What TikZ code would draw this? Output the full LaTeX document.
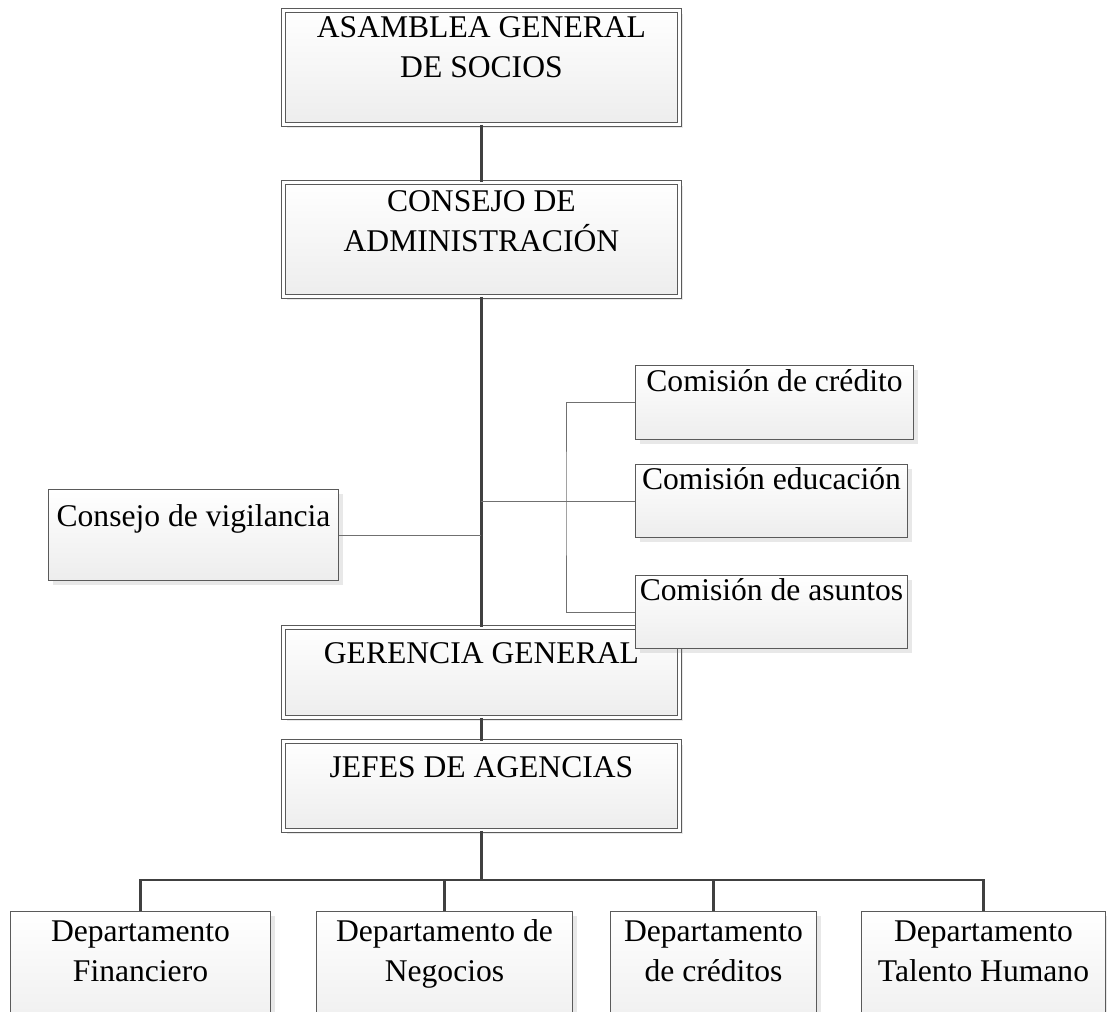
\documentclass[tikz,border=0pt]{standalone}
\usepackage{fontspec}
\setmainfont{Liberation Serif}
\usetikzlibrary{shadows}
\definecolor{lineadark}{HTML}{404040}
\definecolor{lineathin}{HTML}{707070}
\definecolor{bordebox}{HTML}{5A5A5A}
\definecolor{fondobajo}{HTML}{EDEDED}

\begin{document}
\begin{tikzpicture}[x=0.5pt, y=-0.5pt,
    caja/.style={draw=bordebox, line width=0.5pt, top color=white, bottom color=fondobajo,
                 drop shadow={shadow xshift=2pt, shadow yshift=-2pt, opacity=0.18},
                 anchor=north west, inner sep=0pt, align=center,
                 font=\fontsize{15.8pt}{20pt}\selectfont},
    cajadoble/.style={caja, double=white, double distance=1.2pt, line width=0.45pt},
    tronco/.style={draw=lineadark, line width=1.1pt},
    rama/.style={draw=lineathin, line width=0.5pt}]
  \clip (0,0) rectangle (1107,1011);

  % niveles principales
  \node[cajadoble, minimum width=198pt, text height=33.5pt, text depth=23.5pt] (asamblea) at (283,10)
    {ASAMBLEA GENERAL\\DE SOCIOS};
  \node[cajadoble, minimum width=198pt, text height=34.5pt, text depth=22.5pt] (admin) at (283,182)
    {CONSEJO DE\\ADMINISTRACIÓN};
  \node[cajadoble, minimum width=198pt, text height=18pt, text depth=27pt] (gerencia) at (283,627)
    {GERENCIA GENERAL};
  \node[cajadoble, minimum width=198pt, text height=18pt, text depth=26.5pt] (jefes) at (283,741)
    {JEFES DE AGENCIAS};

  % organos de control y comisiones
  \node[caja, minimum width=145pt, text height=18.5pt, text depth=27pt] (vigilancia) at (48,489)
    {Consejo de vigilancia};
  \node[caja, minimum width=139pt, text height=13pt, text depth=24pt] (credito) at (635,365)
    {Comisión de crédito};
  \node[caja, minimum width=136pt, text height=12.5pt, text depth=24pt] (educacion) at (635,464)
    {Comisión educación};
  \node[caja, minimum width=136pt, text height=12.5pt, text depth=24pt] (asuntos) at (635,575)
    {Comisión de asuntos};

  % departamentos
  \node[caja, minimum width=130pt, text height=35pt, text depth=29.5pt] (financiero) at (10,911)
    {Departamento\\Financiero};
  \node[caja, minimum width=128pt, text height=35pt, text depth=29.5pt] (negocios) at (316,911)
    {Departamento de\\Negocios};
  \node[caja, minimum width=103pt, text height=35pt, text depth=29.5pt] (creditos) at (610,911)
    {Departamento\\de créditos};
  \node[caja, minimum width=122pt, text height=35pt, text depth=29.5pt] (talento) at (861,911)
    {Departamento\\Talento Humano};

  % conectores
  \draw[tronco] (asamblea.south) -- (admin.north);
  \draw[tronco] (admin.south) -- (gerencia.north);
  \draw[tronco] (gerencia.south) -- (jefes.north);
  \coordinate (barra) at (jefes.south |- 0,880);
  \draw[tronco] (jefes.south) -- (barra);
  \draw[tronco] (barra) -| (financiero.north);
  \draw[tronco] (barra) -| (negocios.north);
  \draw[tronco] (barra) -| (creditos.north);
  \draw[tronco] (barra) -| (talento.north);

  \draw[rama] (vigilancia.east) -- (vigilancia.east -| admin.south);
  \draw[rama] (educacion.west) -- (educacion.west -| admin.south);
  \coordinate (ramal) at (566,500);
  \draw[rama] (credito.west) -| (ramal) |- (asuntos.west);
\end{tikzpicture}
\end{document}
